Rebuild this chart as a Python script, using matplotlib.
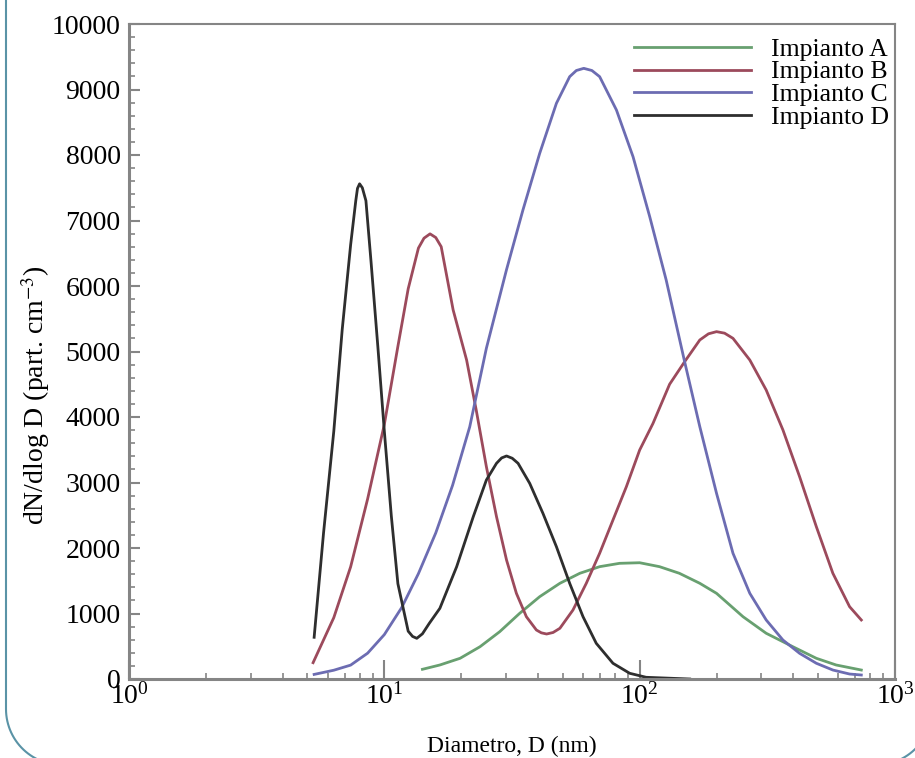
# external
import numpy
import matplotlib
matplotlib.use('Agg')
from matplotlib import pyplot, lines
from matplotlib.ticker import AutoMinorLocator, LogLocator, FixedLocator

# # # # #
# DATA

# Impianto A
diam_a = [14.1, 16.5, 19.8, 23.7, 28.3, 33.9, 40.6, 48.7, 58.3, 69.7, 83.4,
		100, 119.6, 143, 172, 200, 254, 313, 398, 492, 588, 738]
conc_a = [148, 214, 316, 493, 722, 1003, 1257, 1461, 1614, 1715, 1766,
		1775, 1715, 1614, 1461, 1308, 951, 698, 493, 316, 214, 137]

# Impianto B
diam_b = [5.26, 6.34, 7.38, 8.6, 10.0, 11.3, 12.4, 13.6, 14.3, 15.1, 15.9,
		16.7, 18.6, 21.0, 22.9, 25.1, 27.5, 30.1, 32.9, 36.0, 39.4, 41.2,
		43.2, 45.8, 48.7, 54.8, 61.8, 69.7, 78.6, 88.7, 100, 112.7, 131, 150,
		172, 186, 200, 215, 232, 270, 313, 364, 423, 492, 571, 664, 738]
conc_b = [249, 937, 1713, 2748, 3887, 5078, 5957, 6579, 6730, 6796, 6740,
		6600, 5634, 4870, 4107, 3241, 2478, 1817, 1308, 951, 748, 705,
		687, 710, 774, 1053, 1461, 1919, 2427, 2936, 3496, 3900, 4500, 4844,
		5176, 5270, 5303, 5280, 5201, 4870, 4412, 3802, 3089, 2325, 1614, 1104, 901]

# Impianto C
diam_c = [5.31, 6.34, 7.38, 8.6, 10.0, 11.7, 13.6, 15.9, 18.5, 21.6, 25.1,
		30.1, 34.9, 40.6, 47.2, 53.2, 56.5, 60.4, 65.0, 69.7, 81.1, 94.2,
		109.5, 127, 150, 172, 200, 232, 270, 313, 364, 423, 492, 571, 664, 738]
conc_c = [70, 134, 212, 394, 678, 1092, 1609, 2230, 2956, 3850, 5050,
		6250, 7160, 8026, 8789, 9196, 9290, 9323, 9290, 9196, 8687, 7974,
		7058, 6092, 4844, 3852, 2835, 1919, 1308, 901, 595, 392, 240, 137, 76, 61]

# Impianto D
diam_d = [5.31, 5.78, 6.34, 6.84, 7.38, 7.73, 7.85, 8.0, 8.2, 8.47, 8.87,
		9.43, 10.0, 10.65, 11.3, 12.4, 12.9, 13.4, 14.1, 15.0, 16.5, 19.2,
		22.3, 25.1, 27.5, 28.8, 30.1, 31.7, 33.4, 37.1, 41.8, 47.2, 53.2,
		60.0, 67.6, 78.6, 91.4, 106, 135, 157]
conc_d = [637, 2230, 3783, 5336, 6630, 7302, 7490, 7560, 7500, 7302, 6371,
		5078, 3783, 2490, 1455, 730, 650, 621, 690, 850, 1079, 1715,
		2478, 3038, 3293, 3375, 3405, 3370, 3293, 2987, 2529, 2020, 1461,
		951, 545, 240, 87, 26, 10, 0]

labels = ['Impianto A', 'Impianto B', 'Impianto C', 'Impianto D']

# COLOURS
COLS = ['#68a070', '#9c4a5c', '#6c6cb2', '#2e2e2e']
GREY = '#858585'

W, H = 915, 758

# # # # #
# HELPER

def rounded_frame(fig, left, right, bottom, top, r, colour):
	"""draws the open rounded border (left, bottom, right side) in
	image pixels, measured from the top left corner"""
	a1 = numpy.linspace(numpy.pi, numpy.pi/2, 30)
	a2 = numpy.linspace(numpy.pi/2, 0, 30)
	xs = numpy.concatenate([[left], left + r + r*numpy.cos(a1),
		right - r + r*numpy.cos(a2), [right]])
	ys = numpy.concatenate([[top], bottom - r + r*numpy.sin(a1),
		bottom - r + r*numpy.sin(a2), [top]])
	ln = lines.Line2D(xs/float(W), 1 - ys/float(H), transform=fig.transFigure,
		color=colour, lw=1.5)
	fig.add_artist(ln)

# # # # #
# PLOT

pyplot.rcParams['font.family'] = ['Liberation Serif', 'DejaVu Serif']
pyplot.rcParams['mathtext.fontset'] = 'stix'

dpi = 100.0
fig = pyplot.figure(figsize=(W/dpi, H/dpi), dpi=dpi)
ax = fig.add_axes([129./W, 79./H, 766./W, 655./H])

series = [(diam_a, conc_a), (diam_b, conc_b), (diam_c, conc_c), (diam_d, conc_d)]
for (x, y), col, lab in zip(series, COLS, labels):
	ax.plot(x, y, color=col, lw=2, label=lab, solid_joinstyle='round')

# axes
ax.set_xscale('log')
ax.set_xlim(1, 1000)
ax.set_ylim(0, 10000)
ax.set_yticks(numpy.arange(0, 10001, 1000))
ax.yaxis.set_minor_locator(AutoMinorLocator(5))
ax.xaxis.set_major_locator(FixedLocator([1, 10, 100, 1000]))
ax.xaxis.set_minor_locator(LogLocator(base=10, subs=numpy.arange(2, 10)))

for sp in ax.spines.values():
	sp.set_color(GREY)
	sp.set_linewidth(1.5)
ax.spines['bottom'].set_linewidth(2.2)
ax.spines['left'].set_linewidth(2.2)

ax.tick_params(axis='both', which='both', direction='in', color=GREY,
	top=False, right=False, labelsize=20)
ax.tick_params(axis='y', which='major', length=8, width=1.5, pad=6)
ax.tick_params(axis='y', which='minor', length=4, width=1.2)
ax.tick_params(axis='x', which='major', length=14, width=1.5, pad=3)
ax.tick_params(axis='x', which='minor', length=4, width=1.2)

ax.set_xlabel('Diametro, D (nm)', fontsize=17, labelpad=19)
ax.set_ylabel(r'dN/dlog D (part. cm$^{-3}$)', fontsize=20)
ax.yaxis.set_label_coords(-0.1, 0.434)

leg = ax.legend(loc='upper right', bbox_to_anchor=(1.007, 0.997), frameon=False,
	fontsize=18.5, handlelength=4.55, handletextpad=0.78, labelspacing=0.0,
	borderpad=0.2, borderaxespad=0.25)

# rounded border around the whole picture
rounded_frame(fig, 6, 932, 765, -5, 56, '#5a93a6')

fig.savefig('out.png', dpi=dpi)
